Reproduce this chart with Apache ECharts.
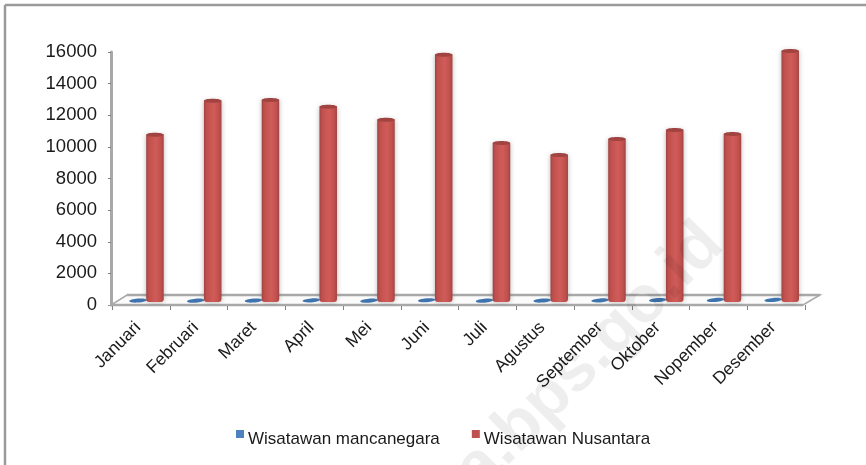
<!DOCTYPE html>
<html><head><meta charset="utf-8">
<style>html,body{margin:0;padding:0;background:#fff}#c{width:866px;height:465px}</style>
<script src="https://cdn.jsdelivr.net/npm/echarts@6/dist/echarts.min.js"></script>
</head><body><div id="c"></div>
<script>
const months = ['Januari','Februari','Maret','April','Mei','Juni','Juli','Agustus','September','Oktober','Nopember','Desember'];
const mancanegara = [90,80,90,100,80,110,80,90,100,120,130,130];
const nusantara = [10570,12720,12780,12340,11520,15630,10060,9300,10310,10880,10630,15880];
const yTicks = {min:0,max:16000,step:2000};
const FONT = '"Liberation Sans", Arial, sans-serif';
const LEGEND_ICON = 'path://M0,0H8V8H0Z M0,18L0,18Z';

function cylinder(palette, shift, tilt){
  return function(params, api){
    const band = api.size([1,0])[0];
    const cx = api.coord([api.value(0),0])[0] + band*shift;
    const y0 = api.coord([0,0])[1] - 3;
    const h = api.size([0,api.value(1)])[1];
    const w = 17.5, top = y0-h, ry = 2;
    const grad = new echarts.graphic.LinearGradient(0,0,1,0,[
      {offset:0,color:palette[0]},{offset:.15,color:palette[1]},{offset:.55,color:palette[2]},{offset:.85,color:palette[1]},{offset:1,color:palette[0]}]);
    const cap = {type:'ellipse',shape:{cx:cx,cy:top,rx:w/2,ry:ry},style:{fill:palette[0]}};
    if (tilt) { cap.rotation = tilt; cap.originX = cx; cap.originY = top; return {type:'group',children:[cap]}; }
    return {type:'group',children:[
      {type:'rect',shape:{x:cx-w/2,y:top,width:w,height:h,r:[0,0,3,3]},
       style:{fill:grad,shadowBlur:5,shadowColor:'rgba(110,110,110,.5)'}},
      cap
    ]};
  };
}
function floor(params){
  const c = params.coordSys, b = c.y+c.height, r = c.x+c.width-2, d = 17, u = 10;
  const line = {stroke:'#a8a8a8',lineWidth:2.5};
  return {type:'group',silent:true,children:[
    {type:'polygon',shape:{points:[[c.x-1,b],[r,b],[r+d,b-u],[c.x+15,b-u]]},style:{fill:'#fbfbfb',stroke:'#a8a8a8',lineWidth:1.5}},
    {type:'line',shape:{x1:c.x+15,y1:b-u,x2:r+d,y2:b-u},style:line},
    {type:'line',shape:{x1:c.x-1,y1:b,x2:r,y2:b},style:line}
  ]};
}
const chart = echarts.init(document.getElementById('c'),null,{renderer:'canvas'});
chart.setOption({
  animation:false,
  backgroundColor:'#fff',
  grid:{left:112,right:61,top:52,bottom:160},
  legend:{
    data:[{name:'Wisatawan mancanegara',icon:LEGEND_ICON},{name:'Wisatawan Nusantara',icon:LEGEND_ICON}],
    left:231,top:425,itemWidth:8,itemHeight:18,itemGap:32,
    textStyle:{fontFamily:FONT,fontSize:17,color:'#1a1a1a',padding:[0,0,0,-1]}
  },
  xAxis:{type:'category',data:months,
    axisLine:{show:false},
    axisTick:{show:true,length:5,lineStyle:{color:'#808080',width:1}},
    axisLabel:{rotate:45,interval:0,margin:17,padding:[0,4,0,0],fontFamily:FONT,fontSize:17.5,color:'#1a1a1a'}},
  yAxis:{type:'value',min:yTicks.min,max:yTicks.max,interval:yTicks.step,offset:1,
    axisLine:{show:true,lineStyle:{color:'#a8a8a8',width:3}},
    axisTick:{show:true,length:3,lineStyle:{color:'#808080',width:1}},
    splitLine:{show:false},
    axisLabel:{margin:14,fontFamily:FONT,fontSize:18.5,color:'#1a1a1a',formatter:(v)=>String(v)}},
  series:[
    {type:'custom',name:'floor',data:[[0,0]],clip:false,z:1,renderItem:floor,silent:true},
    {type:'custom',name:'Wisatawan mancanegara',z:3,clip:false,
      itemStyle:{color:'#4f81bd'},encode:{x:0,y:1},
      data:months.map((m,i)=>[i,mancanegara[i]]),
      renderItem:cylinder(['#3f73ad','#4a7db8','#4f81bd'],-0.05,0.08)},
    {type:'custom',name:'Wisatawan Nusantara',z:4,clip:false,
      itemStyle:{color:'#c0504d'},encode:{x:0,y:1},
      data:months.map((m,i)=>[i,nusantara[i]]),
      renderItem:cylinder(['#a04341','#c0504d','#d05c59'],0.244)}
  ],
  graphic:[
    {type:'line',shape:{x1:5,y1:5,x2:866,y2:5},style:{stroke:'#9a9a9a',lineWidth:2.5},z:50,silent:true},
    {type:'line',shape:{x1:5,y1:5,x2:5,y2:465},style:{stroke:'#9a9a9a',lineWidth:2.5},z:50,silent:true},
    {type:'text',x:490,y:504,rotation:Math.PI/4,z:60,silent:true,
     style:{text:'a.bps.go.id',font:'bold 66px '+FONT,fill:'rgba(0,0,0,.065)',align:'left',verticalAlign:'bottom'}}
  ]
});
</script></body></html>
